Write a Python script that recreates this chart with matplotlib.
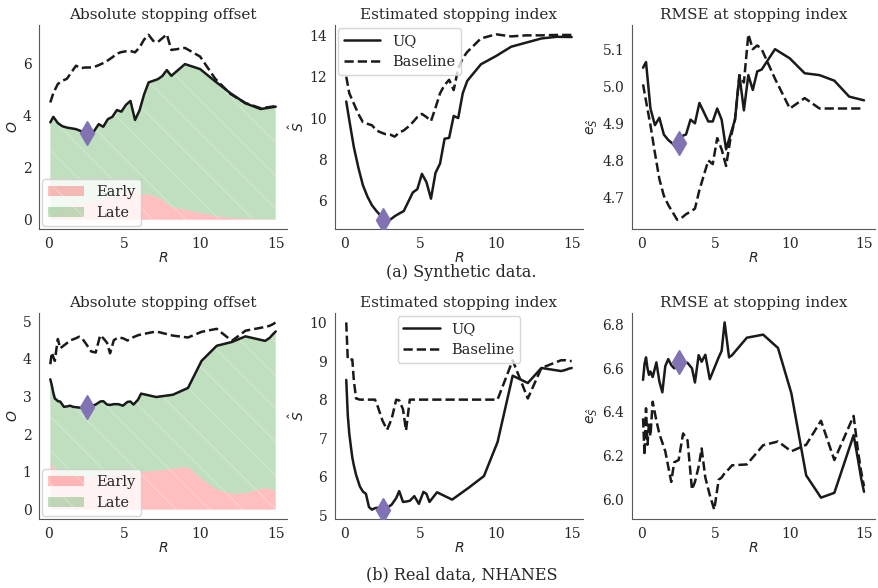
import numpy as np
import matplotlib
matplotlib.use("Agg")
import matplotlib.pyplot as plt
import seaborn as sns

sns.set_style("white")
plt.rcParams['font.family'] = ['DejaVu Serif']
plt.rcParams['mathtext.fontset'] = 'dejavusans'
plt.rcParams['hatch.linewidth'] = 0.7
plt.rcParams['axes.edgecolor'] = '.35'

#-----data: synthetic-----#
R1 = [0.1, 0.3, 0.6, 0.9, 1.2, 1.5, 1.8, 2.1, 2.4, 2.7, 3.0, 3.3, 3.6, 3.9, 4.2, 4.5, 4.8,
      5.1, 5.4, 5.7, 6.0, 6.3, 6.6, 6.9, 7.2, 7.5, 7.8, 8.1, 9, 10, 11, 12, 13, 14, 15]
offset_uq1 = [3.73, 3.94, 3.70, 3.58, 3.53, 3.50, 3.47, 3.40, 3.30, 3.28, 3.40, 3.66, 3.56, 3.85,
              3.94, 4.20, 4.14, 4.40, 4.55, 3.82, 4.19, 4.80, 5.26, 5.32, 5.38, 5.50, 5.73, 5.51,
              5.96, 5.77, 5.30, 4.85, 4.46, 4.24, 4.33]
offset_base1 = [4.49, 4.85, 5.20, 5.32, 5.40, 5.65, 5.90, 5.80, 5.83, 5.83, 5.85, 5.92, 6.00, 6.10,
                6.22, 6.36, 6.42, 6.45, 6.46, 6.41, 6.60, 6.90, 7.08, 6.85, 6.80, 6.95, 7.10, 6.50,
                6.58, 6.25, 5.40, 4.82, 4.47, 4.27, 4.35]
early1 = [0.30, 0.35, 0.40, 0.45, 0.50, 0.55, 0.60, 0.62, 0.65, 0.68, 0.70, 0.75, 0.78, 0.82,
          0.85, 0.90, 0.95, 1.00, 1.05, 1.17, 0.92, 0.98, 0.95, 0.92, 0.85, 0.78, 0.62, 0.50,
          0.38, 0.26, 0.14, 0.07, 0.04, 0.02, 0.01]
s_uq1 = [10.8, 9.9, 8.6, 7.6, 6.75, 6.2, 5.78, 5.5, 5.25, 5.1, 5.08, 5.25, 5.38, 5.5, 5.95, 6.4,
         6.56, 7.3, 6.9, 6.1, 7.35, 7.8, 9.0, 9.04, 10.1, 10.0, 11.2, 11.8, 12.6, 13.0, 13.45,
         13.65, 13.85, 13.93, 13.92]
s_base1 = [12.0, 11.2, 10.7, 10.2, 9.8, 9.72, 9.65, 9.4, 9.3, 9.22, 9.2, 9.1, 9.3, 9.4, 9.58, 9.8,
           10.05, 10.2, 10.05, 9.85, 10.5, 11.2, 11.6, 11.85, 11.35, 12.4, 12.9, 13.2, 13.85,
           14.05, 13.95, 14.0, 14.0, 14.02, 14.02]
rmse_uq1 = [5.05, 5.065, 4.94, 4.895, 4.915, 4.87, 4.855, 4.845, 4.83, 4.865, 4.87, 4.91, 4.90,
            4.955, 4.93, 4.905, 4.905, 4.94, 4.91, 4.83, 4.87, 4.91, 5.03, 4.935, 5.03, 4.99,
            5.04, 5.045, 5.10, 5.075, 5.035, 5.03, 5.015, 4.972, 4.962]
rmse_base1 = [5.005, 4.96, 4.895, 4.82, 4.75, 4.705, 4.68, 4.66, 4.64, 4.645, 4.655, 4.662, 4.67,
              4.72, 4.76, 4.80, 4.79, 4.86, 4.83, 4.785, 4.86, 4.91, 5.03, 5.01, 5.14, 5.10,
              5.11, 5.10, 5.02, 4.94, 4.968, 4.94, 4.94, 4.94, 4.94]

#-----data: NHANES-----#
R2 = [0.1, 0.2, 0.3, 0.4, 0.5, 0.6, 0.75, 1.0, 1.2, 1.4, 1.6, 1.8, 2.0, 2.2, 2.5, 2.8, 3.1, 3.4,
      3.6, 3.85, 4.05, 4.3, 4.6, 4.9, 5.2, 5.4, 5.6, 5.9, 6.1, 7.1, 8.2, 9.2, 10.1, 11.1, 12.1,
      13.0, 14.3, 14.6, 14.8, 15.0]
offset_uq2 = [3.46, 3.30, 3.10, 2.95, 2.92, 2.88, 2.87, 2.73, 2.74, 2.76, 2.73, 2.72, 2.71, 2.71,
              2.72, 2.75, 2.79, 2.87, 2.88, 2.79, 2.78, 2.80, 2.80, 2.76, 2.86, 2.87, 2.79, 2.92,
              3.08, 2.99, 3.05, 3.23, 3.95, 4.35, 4.45, 4.60, 4.48, 4.56, 4.65, 4.73]
offset_base2 = [3.86, 4.17, 4.05, 3.95, 4.25, 4.53, 4.28, 4.36, 4.42, 4.49, 4.52, 4.55, 4.59, 4.55,
                4.38, 4.20, 4.17, 4.63, 4.55, 4.43, 4.15, 4.50, 4.57, 4.55, 4.49, 4.53, 4.58, 4.63,
                4.65, 4.73, 4.62, 4.57, 4.72, 4.80, 4.48, 4.75, 4.85, 4.88, 4.92, 4.97]
early2 = [1.18, 1.22, 1.15, 1.08, 1.02, 0.98, 0.95, 0.92, 0.90, 0.90, 0.89, 0.88, 0.88, 0.88,
          0.88, 0.89, 0.90, 0.90, 0.91, 0.91, 0.92, 0.92, 0.93, 0.94, 0.96, 0.97, 0.97, 0.99,
          1.00, 1.03, 1.09, 1.13, 0.82, 0.53, 0.42, 0.44, 0.58, 0.55, 0.52, 0.50]
s_uq2 = [8.51, 7.6, 7.12, 6.8, 6.5, 6.3, 6.05, 5.75, 5.62, 5.56, 5.22, 5.15, 5.19, 5.2, 5.18, 5.2,
         5.28, 5.45, 5.63, 5.35, 5.36, 5.38, 5.5, 5.3, 5.61, 5.56, 5.35, 5.5, 5.6, 5.41, 5.72,
         6.02, 6.9, 8.62, 8.43, 8.82, 8.74, 8.77, 8.8, 8.82]
s_base2 = [10.0, 9.04, 9.04, 9.04, 9.04, 8.5, 8.03, 8.0, 8.0, 8.0, 8.0, 8.0, 8.0, 7.8, 7.45, 7.22,
           7.5, 8.0, 7.98, 7.75, 7.2, 8.0, 8.0, 8.0, 8.0, 8.0, 8.0, 8.0, 8.0, 8.0, 8.0, 8.0, 8.0,
           9.02, 8.03, 8.82, 9.02, 9.02, 9.0, 9.0]
rmse_uq2 = [6.547, 6.62, 6.65, 6.60, 6.57, 6.585, 6.56, 6.627, 6.54, 6.49, 6.61, 6.642, 6.615,
            6.60, 6.62, 6.63, 6.625, 6.60, 6.535, 6.66, 6.63, 6.662, 6.55, 6.60, 6.65, 6.68, 6.81,
            6.65, 6.66, 6.74, 6.754, 6.693, 6.486, 6.11, 6.008, 6.03, 6.294, 6.18, 6.10, 6.035]
rmse_base2 = [6.371, 6.202, 6.417, 6.25, 6.35, 6.29, 6.447, 6.36, 6.30, 6.26, 6.22, 6.15, 6.08,
              6.17, 6.18, 6.302, 6.27, 6.045, 6.08, 6.15, 6.233, 6.10, 6.02, 5.953, 6.09, 6.10,
              6.12, 6.14, 6.156, 6.16, 6.248, 6.265, 6.22, 6.25, 6.36, 6.18, 6.382, 6.22, 6.13, 6.06]

# selected R (purple diamond) and its value in each panel
R_sel = 2.5
sel1 = [3.32, 5.08, 4.848]
sel2 = [2.72, 5.15, 6.63]

titles = ["Absolute stopping offset", "Estimated stopping index", "RMSE at stopping index"]
ylabels = ["$O$", r"$\hat{S}$", r"$e_{\hat{S}}$"]
captions = ["(a) Synthetic data.", "(b) Real data, NHANES"]

fig = plt.figure(figsize=(8.79, 5.88), dpi=100)
lefts = [0.0444, 0.3811, 0.719]
widths = [0.2821, 0.2821, 0.2765]
bottoms = [0.6105, 0.1173]
heights = [0.3469, 0.3503]

rows = [
    (R1, offset_uq1, offset_base1, early1, s_uq1, s_base1, rmse_uq1, rmse_base1, sel1),
    (R2, offset_uq2, offset_base2, early2, s_uq2, s_base2, rmse_uq2, rmse_base2, sel2),
]

lc = "#1a1a1a"
purple = "#8172B3"
red_f = (1, 0, 0, 0.25)
green_f = (0, 0.5, 0, 0.25)
hatch_c = (1, 1, 1, 0.3)

for i, (R, o_uq, o_b, early, s_uq, s_b, e_uq, e_b, sel) in enumerate(rows):
    R = np.array(R)
    axs = [fig.add_axes([lefts[j], bottoms[i], widths[j], heights[i]]) for j in range(3)]

    # offset panel
    ax = axs[0]
    ax.fill_between(R, 0, early, facecolor=red_f, edgecolor=hatch_c, hatch="\\", linewidth=0, label="Early")
    ax.fill_between(R, early, o_uq, facecolor=green_f, edgecolor=hatch_c, hatch="\\", linewidth=0, label="Late")
    ax.plot(R, o_uq, color=lc, lw=1.8)
    ax.plot(R, o_b, color=lc, lw=1.8, ls="--")
    ax.legend(loc="lower left", fontsize=10.5, handlelength=2.5, borderaxespad=0.2, framealpha=0.8)

    # stopping index panel
    ax = axs[1]
    ax.plot(R, s_uq, color=lc, lw=1.8, label="UQ")
    ax.plot(R, s_b, color=lc, lw=1.8, ls="--", label="Baseline")
    ax.legend(loc="upper left" if i == 0 else "upper center", fontsize=10.5, handlelength=2.5,
              borderaxespad=0.2)

    # rmse panel
    ax = axs[2]
    ax.plot(R, e_uq, color=lc, lw=1.8)
    ax.plot(R, e_b, color=lc, lw=1.8, ls="--")

    for j, ax in enumerate(axs):
        ax.plot([R_sel], [sel[j]], marker="d", color=purple, markersize=12, zorder=5, ls="none")
        ax.set_title(titles[j], fontsize=11, color=".15", pad=4)
        ax.set_ylabel(ylabels[j], fontsize=10, labelpad=2)
        ax.set_xlabel("$R$", fontsize=10, labelpad=0)
        ax.set_xticks([0, 5, 10, 15])
        ax.tick_params(labelsize=10, pad=2)
        sns.despine(ax=ax)

    fig.text(0.525, 0.537 if i == 0 else 0.022, captions[i], ha="center", va="center", fontsize=11.5)

fig.savefig("out.png", dpi=100)
